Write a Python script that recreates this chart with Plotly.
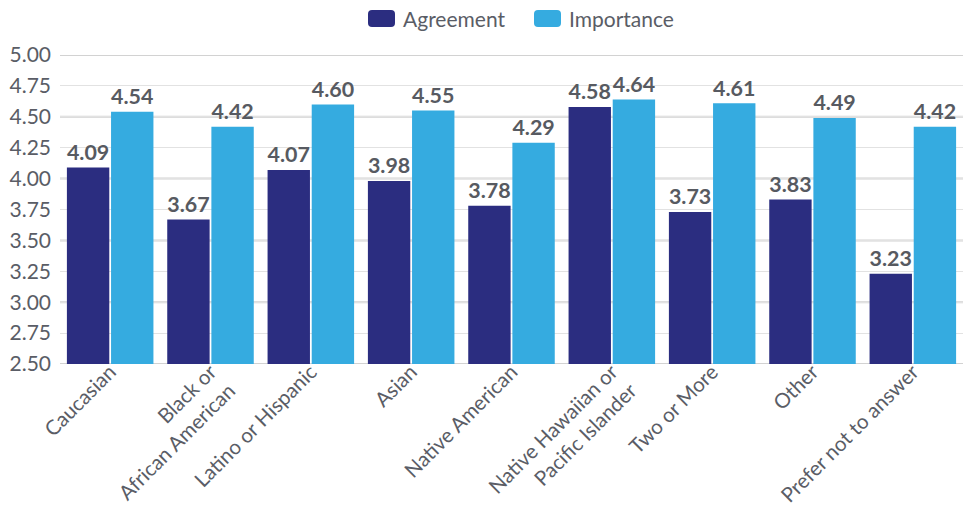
import plotly.graph_objects as go

categories = [
    "Caucasian",
    "Black or<br>African American",
    "Latino or Hispanic",
    "Asian",
    "Native American",
    "Native Hawaiian or<br>Pacific Islander",
    "Two or More",
    "Other",
    "Prefer not to answer",
]
agreement = [4.09, 3.67, 4.07, 3.98, 3.78, 4.58, 3.73, 3.83, 3.23]
importance = [4.54, 4.42, 4.60, 4.55, 4.29, 4.64, 4.61, 4.49, 4.42]
series_names = ["Agreement", "Importance"]
y_ticks = [2.5, 2.75, 3.0, 3.25, 3.5, 3.75, 4.0, 4.25, 4.5, 4.75, 5.0]
y_floor, y_top = 2.5, 5.0

NAVY = "#2b2d80"
SKY = "#35abe0"
TEXT = "#5a5d66"
LABEL = "#575a61"
FONT = "Lato"

W, H = 972, 515
M = dict(l=60, r=9, t=55, b=151)
plot_w = W - M["l"] - M["r"]
plot_h = H - M["t"] - M["b"]


def px_to_paper(x, y):
    return (x - M["l"]) / plot_w, (H - M["b"] - y) / plot_h


def rounded_rect(x0, y0, x1, y1, r):
    # pixel box -> rounded-corner SVG path in paper coordinates
    rx, ry = r / plot_w, r / plot_h
    a0, b1 = px_to_paper(x0, y0)
    a1, b0 = px_to_paper(x1, y1)
    return (
        f"M{a0 + rx},{b0} L{a1 - rx},{b0} Q{a1},{b0} {a1},{b0 + ry} "
        f"L{a1},{b1 - ry} Q{a1},{b1} {a1 - rx},{b1} L{a0 + rx},{b1} "
        f"Q{a0},{b1} {a0},{b1 - ry} L{a0},{b0 + ry} Q{a0},{b0} {a0 + rx},{b0} Z"
    )


fig = go.Figure()
for name, vals, color in zip(series_names, [agreement, importance], [NAVY, SKY]):
    fig.add_trace(go.Bar(
        name=name,
        x=categories,
        y=[v - y_floor for v in vals],
        base=y_floor,
        marker=dict(color=color, line=dict(width=0)),
        text=[f"{v:.2f}" for v in vals],
        textposition="outside",
        textfont=dict(family=FONT, size=23, color=LABEL, weight="bold"),
        cliponaxis=False,
        showlegend=False,
    ))

shapes = []
# heavier rules every half point
for v in [2.5, 3.0, 3.5, 4.0, 4.5, 5.0]:
    shapes.append(dict(type="line", xref="paper", yref="y", x0=0, x1=1, y0=v, y1=v,
                       line=dict(color="#d2d2d2", width=2), layer="below"))

# legend: rounded swatches + labels across the top
annotations = []
for (sx, tx), name, color in zip([(368, 401), (534, 567)], series_names, [NAVY, SKY]):
    shapes.append(dict(type="path", xref="paper", yref="paper",
                       path=rounded_rect(sx, 10, sx + 27, 27, 4),
                       fillcolor=color, line=dict(width=0)))
    ax, ay = px_to_paper(tx, 18.5)
    annotations.append(dict(x=ax, y=ay, xref="paper", yref="paper", text=name,
                            showarrow=False, xanchor="left", yanchor="middle",
                            font=dict(family=FONT, size=21, color=TEXT)))

fig.update_layout(
    width=W,
    height=H,
    margin=M,
    paper_bgcolor="white",
    plot_bgcolor="white",
    barmode="group",
    bargap=0.12,
    bargroupgap=0.04,
    font=dict(family=FONT, size=21, color=TEXT),
    showlegend=False,
    shapes=shapes,
    annotations=annotations,
)

fig.update_xaxes(
    tickangle=-45,
    tickfont=dict(family=FONT, size=20.5, color=TEXT),
    showline=False,
    ticks="",
    automargin=False,
    ticklabelstandoff=-9,
)
fig.update_yaxes(
    range=[y_floor, y_top],
    tickvals=y_ticks,
    tickformat=".2f",
    tickfont=dict(family=FONT, size=21, color=TEXT),
    showgrid=True,
    gridcolor="#e2e2e2",
    gridwidth=1,
    zeroline=False,
    ticks="",
    ticklabelstandoff=8,
    automargin=False,
)

fig.write_html("out.html")
